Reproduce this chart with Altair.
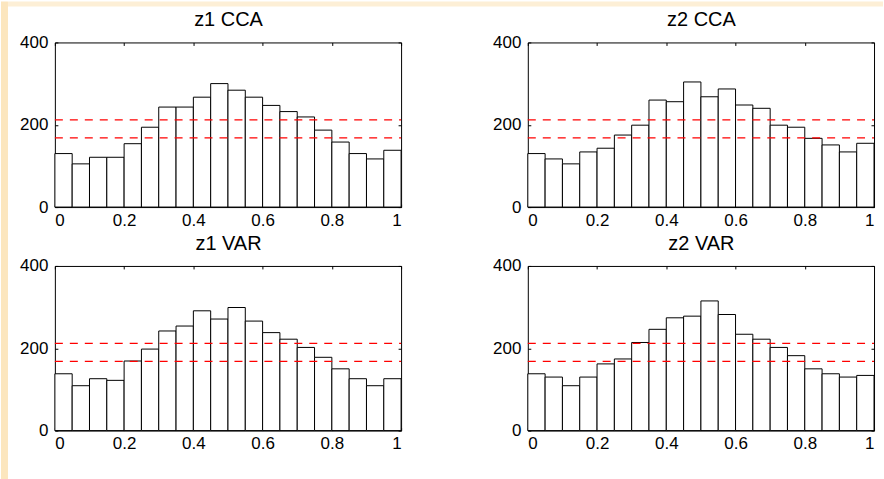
import altair as alt
import pandas as pd

# bin edges of the histograms
bin_left = [0.00, 0.05, 0.10, 0.15, 0.20, 0.25, 0.30, 0.35, 0.40, 0.45,
            0.50, 0.55, 0.60, 0.65, 0.70, 0.75, 0.80, 0.85, 0.90, 0.95]
bin_right = [0.05, 0.10, 0.15, 0.20, 0.25, 0.30, 0.35, 0.40, 0.45, 0.50,
             0.55, 0.60, 0.65, 0.70, 0.75, 0.80, 0.85, 0.90, 0.95, 1.00]

# bar heights
z1_cca = [130, 105, 121, 121, 154, 194, 243, 243, 267, 300,
          284, 267, 247, 232, 219, 187, 158, 130, 117, 138]
z2_cca = [130, 117, 105, 134, 143, 175, 199, 260, 256, 304,
          268, 287, 248, 240, 199, 194, 167, 151, 134, 155]
z1_var = [138, 109, 126, 122, 169, 198, 242, 254, 291, 271,
          299, 266, 238, 222, 202, 178, 150, 126, 109, 126]
z2_var = [138, 130, 109, 130, 162, 174, 214, 246, 274, 278,
          315, 282, 234, 222, 202, 182, 150, 138, 130, 134]

titles = ["z1 CCA", "z2 CCA", "z1 VAR", "z2 VAR"]
levels = [212, 168]          # dashed red reference lines
x_ticks = [0, 0.2, 0.4, 0.6, 0.8, 1]
y_ticks = [0, 200, 400]

FONT = "Liberation Sans"
SLIDE = "#FCE6BE"


def panel(counts, title, first=False):
    df = pd.DataFrame({"x0": bin_left, "x1": bin_right, "count": counts})
    xs = alt.Scale(domain=[0, 1], nice=False, zero=False)
    ys = alt.Scale(domain=[0, 400], nice=False)

    bars = alt.Chart(df).mark_rect(fill="white", stroke="black", strokeWidth=1).encode(
        x=alt.X("x0:Q", scale=xs, title=None,
                axis=alt.Axis(orient="bottom", values=x_ticks, format="~g", labelPadding=5)),
        x2="x1:Q",
        y=alt.Y("count:Q", scale=ys, title=None,
                axis=alt.Axis(orient="left", values=y_ticks, format="d", labelPadding=7)),
        y2=alt.datum(0),
    )

    rdf = pd.DataFrame({"level": levels, "xs": [0, 0], "xe": [1, 1]})
    rules = alt.Chart(rdf).mark_rule(color="#FF0000", strokeDash=[8, 7], strokeWidth=1.3).encode(
        x=alt.X("xs:Q", scale=xs, title=title,
                axis=alt.Axis(orient="top", values=x_ticks, labels=False,
                              titleFont=FONT, titleFontSize=20, titleFontWeight="normal",
                              titleColor="black", titlePadding=12)),
        x2="xe:Q",
        y=alt.Y("level:Q", scale=ys, title=None,
                axis=alt.Axis(orient="right", values=y_ticks, labels=False)),
    )

    layers = []
    if first:
        one = pd.DataFrame({"k": [0]})
        left_strip = alt.Chart(one).mark_rect(fill=SLIDE, strokeWidth=0).encode(
            x=alt.value(-54), x2=alt.value(-47), y=alt.value(-41), y2=alt.value(438))
        top_strip = alt.Chart(one).mark_rect(fill="#FDEFD6", strokeWidth=0).encode(
            x=alt.value(-47), x2=alt.value(830), y=alt.value(-41), y2=alt.value(-36))
        layers += [left_strip, top_strip]
    layers += [bars, rules]

    return alt.layer(*layers).resolve_axis(x="independent", y="independent").properties(
        width=347, height=165,
    )


chart = alt.concat(
    panel(z1_cca, titles[0], first=True),
    panel(z2_cca, titles[1]),
    panel(z1_var, titles[2]),
    panel(z2_var, titles[3]),
    columns=2,
    spacing={"row": 59, "column": 127},
    bounds="flush",
).properties(
    padding=0,
    background="white",
).configure_view(
    stroke="black", strokeWidth=1,
).configure_axis(
    domain=False, grid=False, ticks=True, tickSize=3, tickColor="black",
    offset=-3, labelFont=FONT, labelFontSize=17, labelColor="black",
    zindex=1,
)

chart.save("out.html", embed_options={"renderer": "svg", "actions": False})
